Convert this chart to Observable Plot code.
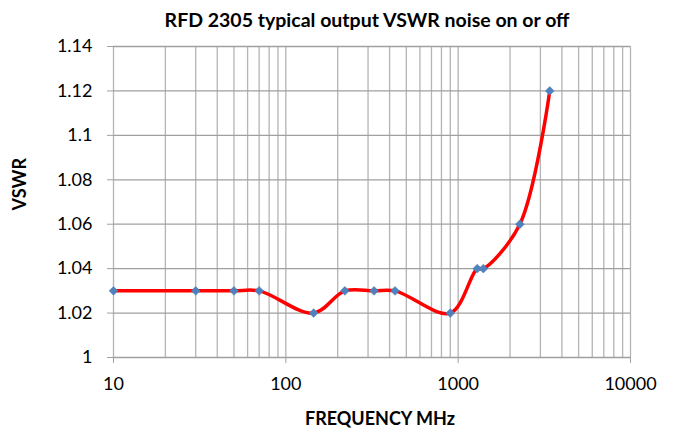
<!DOCTYPE html>
<html><head><meta charset="utf-8">
<script src="https://cdn.jsdelivr.net/npm/d3@7"></script>
<script src="https://cdn.jsdelivr.net/npm/@observablehq/plot@0.6"></script>
<style>body{margin:0;background:#fff;} svg{font-family:Lato,"Open Sans",sans-serif;}</style>
</head><body><div id="chart"></div>
<script>
const freqMHz = [10, 30, 50, 70, 145, 220, 325, 430, 900, 1290, 1400, 2280, 3400];
const vswr = [1.03, 1.03, 1.03, 1.03, 1.02, 1.03, 1.03, 1.03, 1.02, 1.04, 1.04, 1.06, 1.12];
const yTicks = [1, 1.02, 1.04, 1.06, 1.08, 1.1, 1.12, 1.14];
const xMajor = [10, 100, 1000, 10000];
const title = "RFD 2305 typical output VSWR noise on or off";
const xLabel = "FREQUENCY MHz";
const yLabel = "VSWR";

const data = freqMHz.map((f, i) => ({f, v: vswr[i]}));
const xGrid = [];
for (const d of [10, 100, 1000]) for (let k = 1; k <= 9; k++) xGrid.push(d * k);
xGrid.push(10000);

const plot = Plot.plot({
  width: 673, height: 428,
  marginLeft: 113, marginRight: 43, marginTop: 46, marginBottom: 71,
  style: {fontFamily: "Lato, 'Open Sans', sans-serif", background: "#fff"},
  x: {type: "log", domain: [10, 10000], label: null},
  y: {domain: [1, 1.14], label: null},
  marks: [
    Plot.ruleX(xGrid, {stroke: "#b4b4b4", strokeWidth: 1.3}),
    Plot.ruleY(yTicks, {stroke: "#a0a0a0", strokeWidth: 1.3}),
    Plot.axisX({ticks: xMajor, tickFormat: d => String(d), tickSize: 6, stroke: "#a0a0a0", fontSize: 18, fill: "#000", tickPadding: 14, label: null}),
    Plot.axisY({ticks: yTicks, tickFormat: d => String(+d.toFixed(2)), tickSize: 6, stroke: "#a0a0a0", fontSize: 18, fill: "#000", tickPadding: 15, label: null}),
    Plot.line(data, {x: "f", y: "v", stroke: "#ff0000", strokeWidth: 3.5, curve: "catmull-rom"}),
    Plot.dot(data, {x: "f", y: "v", symbol: "diamond2", r: 4, fill: "#4f81bd", stroke: "#4f81bd", strokeWidth: 0.5}),
    Plot.text([title], {frameAnchor: "top", lineAnchor: "middle", dy: -26, dx: -5, fontSize: 19.5, fontWeight: "bold", fill: "#000"}),
    Plot.text([xLabel], {frameAnchor: "bottom", lineAnchor: "middle", dy: 62, dx: 8, fontSize: 18, fontWeight: "bold", fill: "#000"}),
    Plot.text([yLabel], {frameAnchor: "left", lineAnchor: "middle", dx: -93, dy: 8.5, rotate: -90, fontSize: 18, fontWeight: "bold", fill: "#000"})
  ]
});
document.getElementById("chart").appendChild(plot);
</script>
</body></html>
